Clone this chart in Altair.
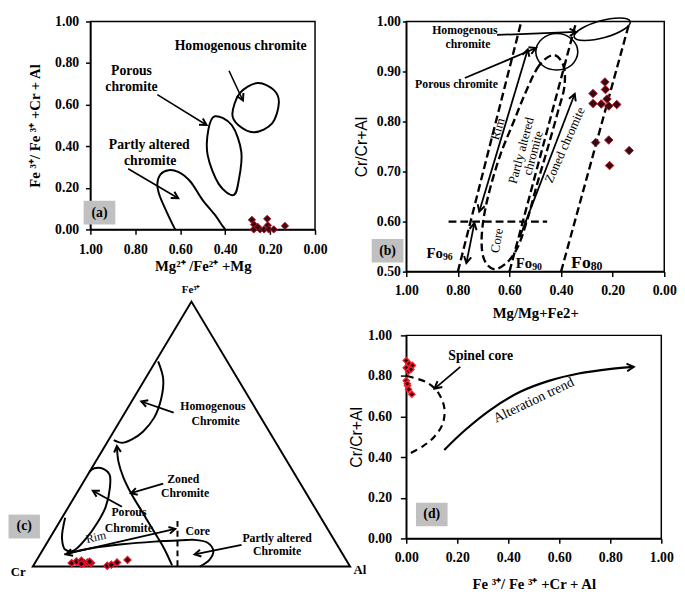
import math
import altair as alt
import pandas as pd

SERIF = "Liberation Serif"
SANS = "Liberation Sans"
TICKS_01 = [0.0, 0.2, 0.4, 0.6, 0.8, 1.0]
TICKS_B = [0.5, 0.6, 0.7, 0.8, 0.9, 1.0]

# ---------------- panel (a) data ----------------
A_PTS_X = [0.281, 0.213, 0.271, 0.273, 0.245, 0.227, 0.210, 0.206, 0.184, 0.134, 0.255]
A_PTS_Y = [0.046, 0.051, 0.023, 0.000, 0.000, 0.000, 0.020, 0.000, 0.000, 0.017, 0.012]
A_HOMOG_X = [0.256, 0.184, 0.161, 0.191, 0.271, 0.342, 0.368, 0.335]
A_HOMOG_Y = [0.704, 0.671, 0.609, 0.510, 0.467, 0.502, 0.556, 0.655]
A_POROUS_X = [0.446, 0.371, 0.328, 0.340, 0.364, 0.429, 0.478, 0.475]
A_POROUS_Y = [0.544, 0.502, 0.372, 0.234, 0.165, 0.219, 0.357, 0.479]
A_ALTERED_X = [0.623, 0.659, 0.695, 0.702, 0.688, 0.652, 0.609, 0.558, 0.501, 0.443, 0.414, 0.400]
A_ALTERED_Y = [0.000, 0.081, 0.173, 0.219, 0.265, 0.285, 0.277, 0.234, 0.142, 0.066, 0.020, 0.000]
A_ARROWS = [(0.383, 0.763, 0.321, 0.620), (0.702, 0.648, 0.483, 0.502), (0.832, 0.292, 0.609, 0.150)]
A_LABELS = ["Homogenous chromite", "Porous", "chromite", "Partly altered", "chromite"]
A_LAB_X = [0.331, 0.817, 0.817, 0.738, 0.734]
A_LAB_Y = [0.881, 0.763, 0.686, 0.406, 0.329]
A_BOX = (1.030, 0.889, 0.138, 0.024)

# ---------------- panel (b) data ----------------
B_PTS_X = [0.230, 0.228, 0.276, 0.222, 0.276, 0.244, 0.215, 0.184, 0.266, 0.215, 0.136, 0.212]
B_PTS_Y = [0.879, 0.864, 0.856, 0.845, 0.836, 0.835, 0.831, 0.834, 0.758, 0.763, 0.742, 0.712]
B_FO_LINES = [([0.800, 0.554], [0.5, 1.0]), ([0.600, 0.341], [0.5, 1.0]),
              ([0.400, 0.134], [0.5, 1.0]), ([0.836, 0.454], [0.6, 0.6])]
B_LOOP_X = [0.429, 0.485, 0.535, 0.585, 0.635, 0.673, 0.698, 0.708, 0.698, 0.661, 0.610, 0.567,
            0.529, 0.490, 0.450, 0.412, 0.387, 0.391]
B_LOOP_Y = [0.933, 0.912, 0.861, 0.798, 0.734, 0.670, 0.613, 0.562, 0.524, 0.505, 0.518, 0.550,
            0.607, 0.680, 0.750, 0.820, 0.870, 0.912]
B_HOMOG_X = [0.132, 0.157, 0.231, 0.311, 0.349, 0.324, 0.250, 0.171]
B_HOMOG_Y = [1.000, 0.984, 0.968, 0.962, 0.969, 0.985, 1.001, 1.007]
B_POROUS_X = [0.335, 0.359, 0.416, 0.474, 0.498, 0.474, 0.416, 0.359]
B_POROUS_Y = [0.939, 0.913, 0.903, 0.913, 0.939, 0.965, 0.976, 0.965]
B_ARROWS = [(0.648, 0.973, 0.341, 0.979), (0.773, 0.887, 0.497, 0.947),
            (0.717, 0.620, 0.529, 0.944), (0.736, 0.597, 0.767, 0.517),
            (0.560, 0.569, 0.347, 0.855)]
B_DOUBLE = [2, 3]
B_LABELS = ["Homogenous", "chromite", "Porous chromite"]
B_LAB_X = [0.773, 0.761, 0.805]
B_LAB_Y = [0.982, 0.954, 0.874]
B_FO = ["Fo", "Fo", "Fo"]
B_FO_SUB = ["96", "90", "80"]
B_FO_X = [0.858, 0.512, 0.285]
B_FO_Y = [0.537, 0.517, 0.518]
B_FO_SIZE = [15, 15, 18]
B_FO_SUB_SIZE = [10, 10, 12]
B_ROT = ["Rim", "Partly altered", "chromite", "Core", "Zoned chromite"]
B_ROT_X = [0.645, 0.554, 0.508, 0.648, 0.385]
B_ROT_Y = [0.785, 0.742, 0.737, 0.562, 0.753]
B_ROT_A = [286, 285, 285, 280, 294]
B_BOX = (1.134, 1.011, 0.565, 0.518)

# ---------------- panel (c) data (ternary) ----------------
C_FE = [0.013, 0.019, 0.022, 0.013, 0.015, 0.013, 0.010, 0.018, 0.003, 0.007, 0.015, 0.025]
C_AL = [0.116, 0.128, 0.142, 0.156, 0.165, 0.177, 0.148, 0.170, 0.233, 0.244, 0.258, 0.286]
C_CR = [0.871, 0.853, 0.836, 0.831, 0.820, 0.810, 0.842, 0.812, 0.764, 0.749, 0.727, 0.689]
C_HOMOG_X = [0.395, 0.411, 0.405, 0.383, 0.347, 0.311, 0.281, 0.255]
C_HOMOG_Y = [0.774, 0.708, 0.635, 0.563, 0.509, 0.479, 0.467, 0.477]
C_ZONED_X = [0.265, 0.270, 0.286, 0.311, 0.347, 0.383, 0.413, 0.439]
C_ZONED_Y = [0.455, 0.395, 0.335, 0.274, 0.202, 0.130, 0.070, 0.004]
C_POROUS_X = [0.102, 0.092, 0.102, 0.128, 0.168, 0.204, 0.230, 0.243, 0.242, 0.224, 0.194, 0.178]
C_POROUS_Y = [0.184, 0.106, 0.064, 0.060, 0.106, 0.166, 0.226, 0.298, 0.347, 0.368, 0.371, 0.358]
C_LOWER_X = [0.526, 0.556, 0.569, 0.551, 0.505, 0.485, 0.383, 0.281, 0.189, 0.128, 0.105]
C_LOWER_Y = [0.000, 0.024, 0.058, 0.090, 0.101, 0.100, 0.094, 0.084, 0.070, 0.055, 0.046]
C_ARROWS = [(0.099, 0.046, 0.449, 0.142), (0.444, 0.581, 0.342, 0.623),
            (0.411, 0.313, 0.309, 0.277), (0.281, 0.226, 0.189, 0.286),
            (0.658, 0.082, 0.510, 0.046)]
C_CORE_LINE = ([0.456, 0.456], [0.172, 0.0])
C_LABELS = ["Homogenous", "Chromite", "Zoned", "Chromite", "Porous", "Chromite",
            "Partly altered", "Chromite", "Core"]
C_LAB_X = [0.568, 0.576, 0.474, 0.480, 0.303, 0.303, 0.770, 0.770, 0.520]
C_LAB_Y = [0.605, 0.549, 0.332, 0.278, 0.205, 0.144, 0.108, 0.058, 0.132]
C_VERTEX = ["Fe³⁺", "Cr", "Al"]
C_VERTEX_X = [0.499, -0.046, 1.031]
C_VERTEX_Y = [1.043, -0.022, -0.014]
C_VERTEX_SIZE = [11, 13, 13]
C_BOX = (-0.0765, 0.0224, 0.196, 0.106)

# ---------------- panel (d) data ----------------
D_PTS_X = [0.000, 0.011, 0.024, 0.000, 0.009, 0.018, 0.000, 0.005, 0.009, 0.022, 0.004]
D_PTS_Y = [0.876, 0.860, 0.852, 0.840, 0.824, 0.832, 0.777, 0.753, 0.734, 0.710, 0.762]
D_CORE_X = [0.003, 0.079, 0.123, 0.149, 0.143, 0.111, 0.066, 0.003]
D_CORE_Y = [0.800, 0.769, 0.722, 0.644, 0.565, 0.502, 0.455, 0.411]
D_TREND_X = [0.149, 0.231, 0.333, 0.447, 0.562, 0.676, 0.803, 0.892]
D_TREND_Y = [0.436, 0.534, 0.636, 0.722, 0.777, 0.812, 0.835, 0.845]
D_ARROW = (0.212, 0.845, 0.111, 0.738)
D_BOX = (0.038, 0.162, 0.176, 0.060)

# ---------------- layout ----------------
SX, SY = 0.99, 0.975
WA, HA = round(231.7 * SX), round(217.6 * SY)
WB, HB = round(266 * SX), round(262 * SY)
COL_GAP = round(87 * SX)
ROW_GAP = round(66.8 * SY)
WC = round(325 * SX) - COL_GAP
HC = round(212.4 * SY)
WD, HD = round(262.4 * SX), HC
TRI_X0, TRI_X1 = -59.3 * SX, 267.4 * SX
TRI_Y0, TRI_Y1 = 241.7 * SY, -35.3 * SY

ARROW = "M -0.55 1 L 0 0 L 0.55 1"


def curve_df(curves):
    rows = []
    for cid, (xs, ys) in enumerate(curves):
        for i, (x, y) in enumerate(zip(xs, ys)):
            rows.append({"id": cid, "i": i, "x": x, "y": y})
    return pd.DataFrame(rows)


def make_enc(xsc, ysc, xax, yax):
    return dict(x=alt.X("x:Q", scale=xsc, axis=xax), y=alt.Y("y:Q", scale=ysc, axis=yax))


def line_layer(curves, E, interp, width=2.0, dash=None):
    kw = dict(color="black", strokeWidth=width, interpolate=interp)
    if dash:
        kw["strokeDash"] = dash
    return alt.Chart(curve_df(curves)).mark_line(**kw).encode(**E, detail="id:N", order="i:Q")


def seg_curves(arrows):
    return [([a[0], a[2]], [a[1], a[3]]) for a in arrows]


def head_layer(arrows, E, kx, ky, size=220):
    rows = []
    for (x1, y1, x2, y2) in arrows:
        dx = kx * (x2 - x1)
        dy = ky * (y2 - y1)
        rows.append({"x": x2, "y": y2, "angle": math.degrees(math.atan2(dx, -dy)) % 360})
    return alt.Chart(pd.DataFrame(rows)).mark_point(
        shape=ARROW, filled=False, color="black", stroke="black", strokeWidth=2,
        size=size, opacity=1).encode(**E, angle=alt.Angle("angle:Q", scale=None))


def text_layer(labels, xs, ys, E, sizes, weight="bold", angles=None, font=SERIF,
               align="center", dy=0):
    n = len(labels)
    if not isinstance(sizes, list):
        sizes = [sizes] * n
    df = pd.DataFrame({"t": labels, "x": xs, "y": ys,
                       "a": angles if angles else [0] * n, "s": sizes})
    return alt.Chart(df).mark_text(font=font, fontWeight=weight, color="black",
                                   align=align, baseline="middle", dy=dy).encode(
        **E, text="t:N", angle=alt.Angle("a:Q", scale=None), size=alt.Size("s:Q", scale=None))


def pts_layer(xs, ys, E, fill, stroke, size, sw=1.0):
    return alt.Chart(pd.DataFrame({"x": xs, "y": ys})).mark_point(
        shape="diamond", filled=True, fill=fill, stroke=stroke, strokeWidth=sw,
        size=size, opacity=1).encode(**E)


def box_layers(box, label, E):
    x1, x2, y1, y2 = box
    df = pd.DataFrame({"x": [x1], "x2": [x2], "y": [y1], "y2": [y2]})
    rect = alt.Chart(df).mark_rect(color="#c0c0c0").encode(**E, x2="x2:Q", y2="y2:Q")
    txt = text_layer([label], [(x1 + x2) / 2], [(y1 + y2) / 2], E, 14)
    return [rect, txt]


AX = dict(labelFont=SERIF, labelFontWeight="bold", labelFontSize=14, labelColor="black",
          domainColor="black", domainWidth=1.5, tickColor="black", tickWidth=1.5,
          grid=False, format=".2f", titleColor="black", labelFlush=False, labelOverlap=False)
FRAME = alt.ViewBackground(stroke="black", strokeWidth=1.5)

# ---------------- panel (a) ----------------
EA = make_enc(
    alt.Scale(domain=[0, 1], reverse=True, nice=False, zero=False),
    alt.Scale(domain=[0, 1], nice=False),
    alt.Axis(values=TICKS_01, title="Mg²⁺ /Fe²⁺ +Mg", titleFont=SERIF, titleFontWeight="bold",
             titleFontSize=15, tickSize=5, labelPadding=9, titlePadding=2, **AX),
    alt.Axis(values=TICKS_01, title="Fe ³⁺/ Fe ³⁺ +Cr + Al", titleFont=SERIF,
             titleFontWeight="bold", titleFontSize=15, tickSize=5, labelPadding=7,
             titlePadding=12, **AX))
KA = (-WA, -HA)
pa = alt.layer(
    line_layer([(A_HOMOG_X, A_HOMOG_Y), (A_POROUS_X, A_POROUS_Y)], EA, "cardinal-closed"),
    line_layer([(A_ALTERED_X, A_ALTERED_Y)], EA, "catmull-rom"),
    line_layer(seg_curves(A_ARROWS), EA, "linear", width=1.6),
    head_layer(A_ARROWS, EA, *KA, size=180),
    text_layer(A_LABELS, A_LAB_X, A_LAB_Y, EA, 14),
    *box_layers(A_BOX, "(a)", EA),
    pts_layer(A_PTS_X, A_PTS_Y, EA, "#3a0810", "#b01525", 55),
).properties(width=WA, height=HA, view=FRAME)

# ---------------- panel (b) ----------------
EB = make_enc(
    alt.Scale(domain=[0, 1], reverse=True, nice=False, zero=False),
    alt.Scale(domain=[0.5, 1], nice=False, zero=False),
    alt.Axis(values=TICKS_01, title="Mg/Mg+Fe2+", titleFont=SERIF, titleFontWeight="bold",
             titleFontSize=15, tickSize=5, labelPadding=7, titlePadding=9, **AX),
    alt.Axis(values=TICKS_B, title="Cr/Cr+Al", titleFont=SANS, titleFontWeight="normal",
             titleFontSize=16, tickSize=4, labelPadding=2, titlePadding=7, **AX))
KB = (-WB, -HB / 0.5)
b_heads = list(B_ARROWS) + [(a[2], a[3], a[0], a[1]) for k, a in enumerate(B_ARROWS) if k in B_DOUBLE]
pb = alt.layer(
    line_layer(B_FO_LINES, EB, "linear", width=2.4, dash=[8, 4]),
    line_layer([(B_LOOP_X, B_LOOP_Y)], EB, "cardinal-closed", width=2.4, dash=[8, 4]),
    line_layer([(B_HOMOG_X, B_HOMOG_Y), (B_POROUS_X, B_POROUS_Y)], EB, "cardinal-closed", width=1.6),
    line_layer(seg_curves(B_ARROWS), EB, "linear", width=1.8),
    head_layer(b_heads, EB, *KB, size=180),
    text_layer(B_LABELS, B_LAB_X, B_LAB_Y, EB, 12),
    text_layer(B_FO, B_FO_X, B_FO_Y, EB, B_FO_SIZE, align="right"),
    text_layer(B_FO_SUB, B_FO_X, B_FO_Y, EB, B_FO_SUB_SIZE, align="left", dy=4),
    text_layer(B_ROT, B_ROT_X, B_ROT_Y, EB, 13, weight="normal", angles=B_ROT_A),
    *box_layers(B_BOX, "(b)", EB),
    pts_layer(B_PTS_X, B_PTS_Y, EB, "#3a0810", "#b01525", 75),
).properties(width=WB, height=HB, view=FRAME)

# ---------------- panel (c) ternary ----------------
c_span_x = TRI_X1 - TRI_X0
c_span_y = TRI_Y0 - TRI_Y1
EC = make_enc(
    alt.Scale(domain=[-TRI_X0 / c_span_x, (WC - TRI_X0) / c_span_x], nice=False, zero=False),
    alt.Scale(domain=[(TRI_Y0 - HC) / c_span_y, TRI_Y0 / c_span_y], nice=False, zero=False),
    None, None)
KC = (c_span_x, -c_span_y)
tri_fe = [0.0, 0.0, 1.0]
tri_al = [0.0, 1.0, 0.0]
tri_x = [al + fe / 2 for fe, al in zip(tri_fe, tri_al)]
tri_y = list(tri_fe)
c_x = [(al + fe / 2) / (fe + al + cr) for fe, al, cr in zip(C_FE, C_AL, C_CR)]
c_y = [fe / (fe + al + cr) for fe, al, cr in zip(C_FE, C_AL, C_CR)]
c_heads = list(C_ARROWS) + [
    (C_ZONED_X[1], C_ZONED_Y[1], C_ZONED_X[0], C_ZONED_Y[0]),
    (C_LOWER_X[-2], C_LOWER_Y[-2], C_LOWER_X[-1], C_LOWER_Y[-1]),
]
pc = alt.layer(
    line_layer([(tri_x, tri_y)], EC, "linear-closed", width=2),
    line_layer([(C_HOMOG_X, C_HOMOG_Y), (C_ZONED_X, C_ZONED_Y), (C_POROUS_X, C_POROUS_Y),
                (C_LOWER_X, C_LOWER_Y)], EC, "catmull-rom", width=2),
    line_layer(seg_curves(C_ARROWS), EC, "linear", width=1.8),
    line_layer([C_CORE_LINE], EC, "linear", width=2, dash=[6, 4]),
    head_layer(c_heads, EC, *KC, size=160),
    text_layer(C_LABELS, C_LAB_X, C_LAB_Y, EC, 12),
    text_layer(["Rim"], [0.199], [0.112], EC, 12, weight="normal", angles=[347]),
    text_layer(C_VERTEX, C_VERTEX_X, C_VERTEX_Y, EC, C_VERTEX_SIZE),
    *box_layers(C_BOX, "(c)", EC),
    pts_layer(c_x, c_y, EC, "#200000", "#e8102a", 50, sw=1.4),
).properties(width=WC, height=HC, view=alt.ViewBackground(stroke="transparent"))

# ---------------- panel (d) ----------------
ED = make_enc(
    alt.Scale(domain=[0, 1], nice=False, zero=False),
    alt.Scale(domain=[0, 1], nice=False),
    alt.Axis(values=TICKS_01, title="Fe ³⁺/ Fe ³⁺ +Cr + Al", titleFont=SERIF,
             titleFontWeight="bold", titleFontSize=15, tickSize=5, labelPadding=8,
             titlePadding=12, **AX),
    alt.Axis(values=TICKS_01, title="Cr/Cr+Al", titleFont=SANS, titleFontWeight="normal",
             titleFontSize=16, tickSize=6, labelPadding=9, titlePadding=3, **AX))
KD = (WD, -HD)
d_heads = [D_ARROW, (D_TREND_X[-2], D_TREND_Y[-2], D_TREND_X[-1], D_TREND_Y[-1])]
pd_ = alt.layer(
    line_layer([(D_CORE_X, D_CORE_Y)], ED, "catmull-rom", width=2.2, dash=[7, 5]),
    line_layer([(D_TREND_X, D_TREND_Y)], ED, "catmull-rom", width=2.2),
    line_layer(seg_curves([D_ARROW]), ED, "linear", width=1.8),
    head_layer(d_heads, ED, *KD, size=200),
    text_layer(["Spinel core"], [0.292], [0.898], ED, 14),
    text_layer(["Alteration trend"], [0.500], [0.680], ED, 14, weight="normal", angles=[334.5]),
    *box_layers(D_BOX, "(d)", ED),
    pts_layer(D_PTS_X, D_PTS_Y, ED, "#300000", "#ff1a2a", 40, sw=1.4),
).properties(width=WD, height=HD, view=FRAME)

chart = alt.concat(
    pa, pb, pc, pd_, columns=2,
    spacing={"row": ROW_GAP, "column": COL_GAP},
    bounds="flush",
    align={"row": "all", "column": "none"},
).properties(padding=0, background="white")

chart.save("out.html", embed_options={"renderer": "svg", "actions": False})
